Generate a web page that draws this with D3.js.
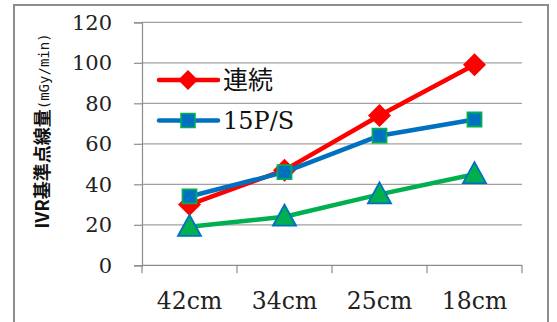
<!DOCTYPE html>
<html>
<head>
<meta charset="utf-8">
<script src="https://cdn.jsdelivr.net/npm/d3@7"></script>
<style>
  html, body { margin: 0; padding: 0; background: #fff; }
  svg { display: block; }
</style>
</head>
<body>
<svg id="chart" width="557" height="322"></svg>
<script>
// Distance categories and dose-rate series (mGy/min)
const categories = ["42cm", "34cm", "25cm", "18cm"];
const seriesNames = ["連続", "15P/S", "7.5P/S"];
const continuous = [30, 47, 74, 99];
const pulse15 = [34, 46, 64, 72];
const pulse75 = [19, 24, 35, 45];
const yTicks = [0, 20, 40, 60, 80, 100, 120];

const svg = d3.select("#chart");

// outer frame
svg.append("rect")
  .attr("x", 14).attr("y", 5)
  .attr("width", 534).attr("height", 330)
  .attr("fill", "none").attr("stroke", "#8c8c8c").attr("stroke-width", 2);

const plot = { left: 142, right: 522, top: 22.3, bottom: 265.3 };

const x = d3.scaleBand().domain(categories).range([plot.left, plot.right]).padding(0);
const y = d3.scaleLinear().domain([0, 120]).range([plot.bottom, plot.top]);

// horizontal gridlines
svg.append("g").selectAll("line").data(yTicks.filter(d => d > 0)).join("line")
  .attr("x1", plot.left).attr("x2", plot.right)
  .attr("y1", d => y(d)).attr("y2", d => y(d))
  .attr("stroke", "#a0a0a0").attr("stroke-width", 1.2);

// y axis
const yAxis = svg.append("g")
  .attr("transform", `translate(${plot.left},0)`)
  .call(d3.axisLeft(y).tickValues(yTicks).tickSize(8).tickPadding(22));
yAxis.select(".domain").attr("stroke", "#8c8c8c").attr("stroke-width", 1.2);
yAxis.selectAll(".tick line").attr("stroke", "#8c8c8c").attr("stroke-width", 1.2);
yAxis.selectAll(".tick text")
  .attr("font-family", "'DejaVu Serif', serif")
  .attr("font-size", 21).attr("fill", "#222");

// x axis with boundary ticks between categories
const xAxisG = svg.append("g").attr("transform", `translate(0,${plot.bottom})`);
xAxisG.append("line")
  .attr("x1", plot.left).attr("x2", plot.right)
  .attr("stroke", "#8c8c8c").attr("stroke-width", 1.2);
const bounds = categories.map(c => x(c)).concat([plot.right]);
xAxisG.selectAll("line.tk").data(bounds).join("line").attr("class", "tk")
  .attr("x1", d => d).attr("x2", d => d).attr("y1", 0).attr("y2", 8)
  .attr("stroke", "#8c8c8c").attr("stroke-width", 1.2);
xAxisG.selectAll("text").data(categories).join("text")
  .attr("x", d => x(d) + x.bandwidth() / 2)
  .attr("y", 44)
  .attr("text-anchor", "middle")
  .attr("font-family", "'DejaVu Serif', serif")
  .attr("font-size", 23.5).attr("fill", "#222")
  .text(d => d);

// y axis title
const title = svg.append("text")
  .attr("transform", "translate(49,131) rotate(-90)")
  .attr("text-anchor", "middle")
  .attr("fill", "#111");
title.append("tspan")
  .attr("font-family", "'Noto Sans CJK JP', sans-serif")
  .attr("font-weight", "bold").attr("font-size", 18)
  .text("IVR基準点線量");
title.append("tspan")
  .attr("font-family", "'DejaVu Sans Mono', monospace")
  .attr("font-size", 14)
  .text("(mGy/min)");

// series
const cx = d => x(d) + x.bandwidth() / 2;
const series = [
  { name: seriesNames[0], values: continuous, line: "#ff0000", fill: "#ff0000", edge: "#ff0000", shape: "diamond" },
  { name: seriesNames[1], values: pulse15, line: "#0070c0", fill: "#0070c0", edge: "#00b050", shape: "square" },
  { name: seriesNames[2], values: pulse75, line: "#00b050", fill: "#00b050", edge: "#0070c0", shape: "triangle" }
];

function markerPath(shape) {
  if (shape === "diamond") return "M0,-11.5L11.5,0L0,11.5L-11.5,0Z";
  if (shape === "square") return "M-7,-7L7,-7L7,7L-7,7Z";
  return "M0,-12L11.5,9L-11.5,9Z";
}

const lineGen = d3.line().x((d, i) => cx(categories[i])).y(d => y(d));

series.forEach(s => {
  svg.append("path")
    .attr("d", lineGen(s.values))
    .attr("fill", "none").attr("stroke", s.line)
    .attr("stroke-width", 4.5).attr("stroke-linejoin", "round");
  svg.append("g").selectAll("path").data(s.values).join("path")
    .attr("transform", (d, i) => `translate(${cx(categories[i])},${y(d)})`)
    .attr("d", markerPath(s.shape))
    .attr("fill", s.fill).attr("stroke", s.edge)
    .attr("stroke-width", s.shape === "diamond" ? 0 : 1.8);
});

// legend (first two series)
const legend = svg.append("g");
const legendY = [80, 120.5];
series.slice(0, 2).forEach((s, i) => {
  const g = legend.append("g").attr("transform", `translate(0,${legendY[i]})`);
  g.append("line").attr("x1", 159).attr("x2", 218)
    .attr("stroke", s.line).attr("stroke-width", 4.5).attr("stroke-linecap", "round");
  g.append("path").attr("transform", "translate(188,0)")
    .attr("d", s.shape === "diamond" ? "M0,-10L10,0L0,10L-10,0Z" : "M-7,-7L7,-7L7,7L-7,7Z")
    .attr("fill", s.fill).attr("stroke", s.edge)
    .attr("stroke-width", s.shape === "diamond" ? 0 : 1.5);
  g.append("text")
    .attr("x", 223).attr("y", i === 0 ? 9 : 8.5)
    .attr("font-family", i === 0 ? "'Noto Sans CJK JP', serif" : "'DejaVu Serif', serif")
    .attr("font-size", i === 0 ? 25 : 24)
    .attr("fill", "#111")
    .text(s.name);
});
</script>
</body>
</html>
